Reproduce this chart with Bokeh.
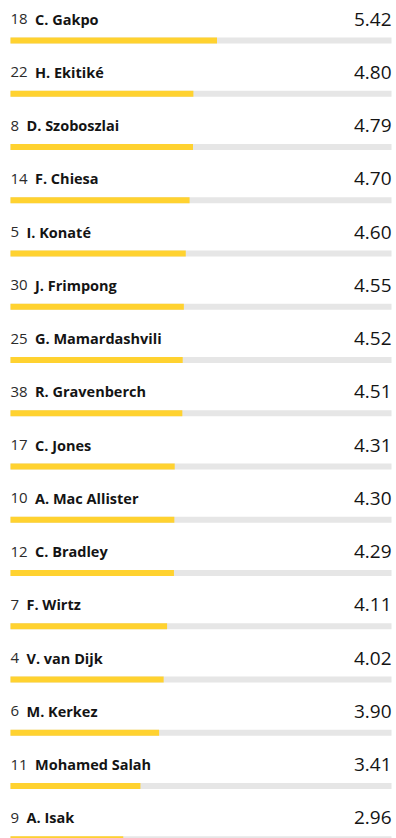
from bokeh.plotting import figure
from bokeh.models import ColumnDataSource, Range1d
from bokeh.core.properties import value
from bokeh.embed import file_html
from bokeh.resources import INLINE

shirt_numbers = ["18", "22", "8", "14", "5", "30", "25", "38", "17", "10", "12", "7", "4", "6", "11", "9"]
players = ["C. Gakpo", "H. Ekitiké", "D. Szoboszlai", "F. Chiesa", "I. Konaté", "J. Frimpong",
           "G. Mamardashvili", "R. Gravenberch", "C. Jones", "A. Mac Allister", "C. Bradley",
           "F. Wirtz", "V. van Dijk", "M. Kerkez", "Mohamed Salah", "A. Isak"]
ratings = [5.42, 4.80, 4.79, 4.70, 4.60, 4.55, 4.52, 4.51, 4.31, 4.30, 4.29, 4.11, 4.02, 3.90, 3.41, 2.96]
max_rating = 10

W, H = 396, 838
PX_PER_UNIT = 38.1
ROW = 53.25
LEFT_PX = 10
TOP_PX = 18.5

rows = list(range(len(players)))
bar_y = [r + 0.404 for r in rows]
name_offset = [len(s) * 8.5 + 7.5 for s in shirt_numbers]
labels = [f"{v:.2f}" for v in ratings]

src = ColumnDataSource(dict(row=rows, bar_y=bar_y, rating=ratings, track=[max_rating] * len(rows),
                            num=shirt_numbers, name=players, noff=name_offset, label=labels,
                            zero=[0] * len(rows)))

x0 = -LEFT_PX / PX_PER_UNIT
p = figure(width=W, height=H, output_backend="svg", toolbar_location=None,
           x_range=Range1d(x0, x0 + W / PX_PER_UNIT),
           y_range=Range1d((H - TOP_PX) / ROW, (0 - TOP_PX) / ROW),
           min_border=0)
p.axis.visible = False
p.grid.visible = False
p.outline_line_color = None
p.background_fill_color = "white"
p.border_fill_color = "white"

bh = 6 / ROW
p.hbar(y="bar_y", left="zero", right="track", height=bh, source=src, fill_color="#E6E6E6", line_color=None)
p.hbar(y="bar_y", left="zero", right="rating", height=bh, source=src, fill_color="#FFD230", line_color=None)

p.text(x="zero", y="row", text="num", source=src, text_font=value("Open Sans"), text_font_size="15px",
       text_color="#2b2b2b", text_baseline="middle", text_align="left")
p.text(x="zero", y="row", text="name", x_offset="noff", source=src, text_font=value("Open Sans"),
       text_font_size="14.5px", text_font_style="bold", text_color="#141414", text_baseline="middle",
       text_align="left")
p.text(x="track", y="row", text="label", source=src, text_font=value("Open Sans"), text_font_size="19px",
       text_color="#141414", text_baseline="middle", text_align="right")

open("out.html", "w").write(file_html(p, INLINE))
